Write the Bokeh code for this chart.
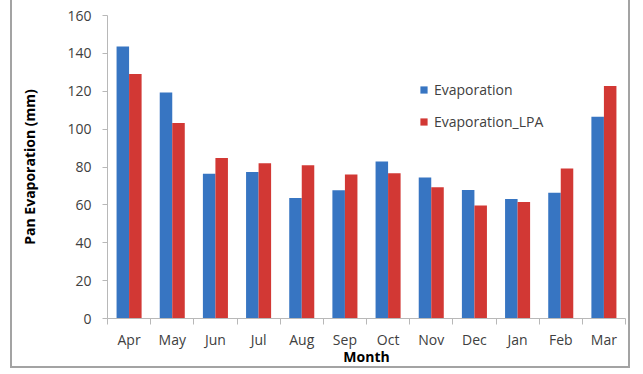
from bokeh.plotting import figure
from bokeh.models import ColumnDataSource, FixedTicker, Legend, LegendItem, Range1d
from bokeh.embed import file_html
from bokeh.resources import INLINE

# Monthly pan evaporation (mm), April through March
months = ["Apr", "May", "Jun", "Jul", "Aug", "Sep", "Oct", "Nov", "Dec", "Jan", "Feb", "Mar"]
evaporation = [143.6, 119.3, 76.5, 77.4, 63.6, 67.7, 82.9, 74.4, 67.8, 63.1, 66.4, 106.5]
evaporation_lpa = [129.1, 103.2, 84.8, 82.0, 80.9, 76.0, 76.7, 69.3, 59.7, 61.5, 79.2, 122.8]
y_ticks = [0, 20, 40, 60, 80, 100, 120, 140, 160]

BLUE = "#3775C2"
RED = "#D23834"
FONT = "Open Sans"
TICK_COLOR = "#404040"
AXIS_COLOR = "#B8B8B8"
BORDER = "2px solid #A3A3A3"

pos = [i + 0.5 for i in range(len(months))]
bar_w = 0.29
src = ColumnDataSource(dict(
    x1=[p_ - bar_w / 2 for p_ in pos],
    x2=[p_ + bar_w / 2 for p_ in pos],
    evap=evaporation,
    lpa=evaporation_lpa,
))

p = figure(width=620, height=368, output_backend="svg", toolbar_location=None,
           x_range=Range1d(0, len(months)), y_range=Range1d(0, 160),
           min_border_left=95, min_border_right=7, min_border_top=15,
           min_border_bottom=50, outline_line_color=None,
           background_fill_color="white", border_fill_color="white",
           margin=(0, 0, 0, 10))
# grey frame around the chart area (left, right and bottom edges)
p.styles = {"border-left": BORDER, "border-right": BORDER, "border-bottom": BORDER}

r1 = p.vbar(x="x1", top="evap", width=bar_w, source=src, fill_color=BLUE,
            line_color=None)
r2 = p.vbar(x="x2", top="lpa", width=bar_w, source=src, fill_color=RED,
            line_color=None)

p.xgrid.visible = False
p.ygrid.visible = False

# y axis
p.yaxis.ticker = FixedTicker(ticks=y_ticks)
p.yaxis.axis_line_color = AXIS_COLOR
p.yaxis.major_tick_line_color = AXIS_COLOR
p.yaxis.major_tick_out = 5
p.yaxis.major_tick_in = 0
p.yaxis.minor_tick_line_color = None
p.yaxis.major_label_text_font = FONT
p.yaxis.major_label_text_font_size = "14px"
p.yaxis.major_label_text_color = TICK_COLOR
p.yaxis.major_label_standoff = 11
p.yaxis.axis_label = "Pan Evaporation (mm)"
p.yaxis.axis_label_text_font = FONT
p.yaxis.axis_label_text_font_size = "14px"
p.yaxis.axis_label_text_font_style = "bold"
p.yaxis.axis_label_text_color = "black"
p.yaxis.axis_label_standoff = 25

# x axis: month labels at centres, tick marks between categories
p.xaxis.ticker = FixedTicker(ticks=pos, minor_ticks=list(range(len(months) + 1)))
p.xaxis.major_label_overrides = {p_: m for p_, m in zip(pos, months)}
p.xaxis.axis_line_color = AXIS_COLOR
p.xaxis.major_tick_line_color = None
p.xaxis.major_tick_out = 0
p.xaxis.major_tick_in = 0
p.xaxis.minor_tick_line_color = AXIS_COLOR
p.xaxis.minor_tick_out = 6
p.xaxis.minor_tick_in = 0
p.xaxis.major_label_text_font = FONT
p.xaxis.major_label_text_font_size = "14px"
p.xaxis.major_label_text_color = TICK_COLOR
p.xaxis.major_label_standoff = 5
p.xaxis.axis_label = "Month"
p.xaxis.axis_label_text_font = FONT
p.xaxis.axis_label_text_font_size = "14px"
p.xaxis.axis_label_text_font_style = "bold"
p.xaxis.axis_label_text_color = "black"
p.xaxis.axis_label_standoff = -5

legend = Legend(items=[LegendItem(label="Evaporation", renderers=[r1]),
                       LegendItem(label="Evaporation_LPA", renderers=[r2])],
                location=(312, 187), orientation="vertical",
                glyph_width=9, glyph_height=9, label_height=20, spacing=12,
                label_standoff=6, padding=0, margin=0,
                border_line_color=None, background_fill_alpha=0,
                label_text_font=FONT, label_text_font_size="14px",
                label_text_color=TICK_COLOR)
p.add_layout(legend)

open("out.html", "w").write(file_html(p, INLINE))
